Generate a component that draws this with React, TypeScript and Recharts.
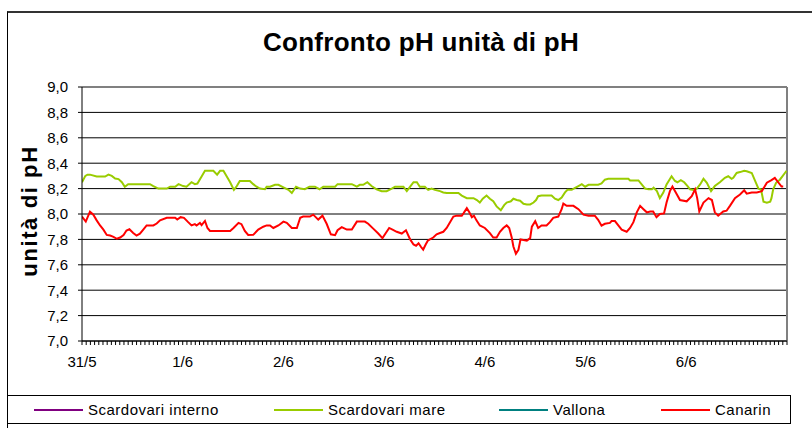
import React from 'react';
import { LineChart, Line, XAxis, YAxis, CartesianGrid, ReferenceLine, Legend } from 'recharts';

const FONT = '"Liberation Sans", Arial, Helvetica, sans-serif';

// Category labels (one per day, placed at the start of each day, in hours)
const dayLabels = ['31/5', '1/6', '2/6', '3/6', '4/6', '5/6', '6/6'];
const hourTicks = Array.from({ length: 169 }, (_, i) => i);
const yTicks = [7.0, 7.2, 7.4, 7.6, 7.8, 8.0, 8.2, 8.4, 8.6, 8.8, 9.0];

const seriesNames = ['Scardovari interno', 'Scardovari mare', 'Vallona', 'Canarin'];
const seriesColors = ['#800080', '#99cc00', '#008080', '#ff0000'];

// [hour since 31/5 00:00, pH]
const scardovariInterno: [number, number][] = [];
const vallona: [number, number][] = [];

const scardovariMare: [number, number][] = [
  [0, 8.25], [0.8, 8.30], [1.3, 8.31], [1.9, 8.31], [3.5, 8.295], [5.5, 8.295], [6.3, 8.31], [7.1, 8.30],
  [7.9, 8.28], [8.7, 8.275], [9.5, 8.25], [10.2, 8.215], [11.0, 8.235], [16.2, 8.235], [17.0, 8.22],
  [18.2, 8.20], [20.2, 8.20], [21.0, 8.215], [22.2, 8.215], [23.0, 8.235], [24.1, 8.22], [24.9, 8.215],
  [26.1, 8.25], [26.9, 8.235], [27.5, 8.24], [28.5, 8.295], [29.3, 8.34], [31.3, 8.34], [32.2, 8.31],
  [32.9, 8.34], [33.7, 8.34], [34.5, 8.295], [35.3, 8.25], [36.2, 8.19], [36.9, 8.22], [37.6, 8.26],
  [40.0, 8.26], [40.8, 8.235], [41.6, 8.215], [42.4, 8.20], [43.6, 8.195], [44.0, 8.215], [44.8, 8.215],
  [46.0, 8.23], [46.8, 8.23], [48.0, 8.21], [49.2, 8.19], [50.0, 8.165], [51.0, 8.215], [52.0, 8.20],
  [53.1, 8.195], [54.2, 8.215], [55.5, 8.215], [56.6, 8.195], [57.5, 8.215], [60.3, 8.215], [60.9, 8.235],
  [64.3, 8.235], [65.5, 8.215], [66.2, 8.23], [67.0, 8.23], [68.0, 8.25], [69.0, 8.22], [70.2, 8.195],
  [71.4, 8.18], [72.6, 8.18], [73.8, 8.20], [74.6, 8.215], [76.6, 8.215], [77.4, 8.18], [78.2, 8.215],
  [79.0, 8.25], [79.8, 8.25], [80.5, 8.215], [81.7, 8.215], [82.5, 8.19], [83.3, 8.20], [84.1, 8.19],
  [85.3, 8.18], [86.1, 8.17], [86.9, 8.165], [89.7, 8.165], [90.5, 8.145], [91.7, 8.125], [93.3, 8.125],
  [94.1, 8.11], [94.8, 8.09], [95.5, 8.12], [96.4, 8.145], [97.2, 8.12], [98.0, 8.10], [98.8, 8.06],
  [99.8, 8.03], [100.6, 8.07], [101.2, 8.09], [102.2, 8.10], [102.8, 8.12], [103.6, 8.11], [104.4, 8.105],
  [105.2, 8.08], [106.0, 8.075], [106.8, 8.075], [107.6, 8.09], [108.2, 8.11], [108.7, 8.14], [109.5, 8.145],
  [111.9, 8.145], [112.7, 8.12], [113.5, 8.11], [114.3, 8.13], [115.1, 8.17], [115.7, 8.19], [116.7, 8.19],
  [117.5, 8.205], [118.3, 8.22], [119.1, 8.235], [119.9, 8.215], [120.7, 8.23], [123.0, 8.23], [123.8, 8.24],
  [124.6, 8.27], [125.4, 8.277], [130.2, 8.277], [130.6, 8.264], [132.6, 8.264], [134.2, 8.2], [135.0, 8.194],
  [135.8, 8.194], [136.2, 8.208], [137.0, 8.18], [137.7, 8.125], [138.5, 8.167], [139.3, 8.233], [140.5, 8.297],
  [141.3, 8.26], [141.9, 8.25], [142.7, 8.267], [143.5, 8.25], [144.3, 8.22], [144.9, 8.194], [145.7, 8.19],
  [146.5, 8.2], [147.3, 8.233], [148.1, 8.277], [148.9, 8.246], [149.9, 8.18], [150.8, 8.22], [152.0, 8.25],
  [153.2, 8.285], [154.0, 8.297], [154.8, 8.277], [155.2, 8.285], [156.0, 8.323], [156.8, 8.33], [157.8, 8.34],
  [158.4, 8.336], [159.6, 8.323], [160.4, 8.26], [161.2, 8.2], [161.8, 8.194], [162.4, 8.097], [163.2, 8.089],
  [164.0, 8.097], [164.3, 8.125], [164.7, 8.194], [165.4, 8.246], [166.3, 8.27], [167.5, 8.323], [167.9, 8.34],
];

const canarin: [number, number][] = [
  [0, 7.98], [0.9, 7.94], [1.9, 8.018], [2.7, 7.995], [3.5, 7.95], [4.3, 7.91], [5.1, 7.877], [5.9, 7.835],
  [6.7, 7.83], [7.5, 7.82], [8.3, 7.805], [9.1, 7.815], [9.9, 7.835], [10.6, 7.87], [11.3, 7.88], [12.2, 7.85],
  [13.0, 7.83], [13.8, 7.845], [14.6, 7.877], [15.4, 7.91], [17.0, 7.91], [17.8, 7.925], [18.6, 7.95],
  [20.2, 7.97], [22.2, 7.97], [22.7, 7.956], [23.5, 7.975], [24.3, 7.97], [25.3, 7.936], [26.1, 7.91],
  [26.9, 7.92], [27.3, 7.91], [28.1, 7.93], [28.5, 7.913], [29.3, 7.945], [29.9, 7.89], [30.5, 7.867],
  [35.3, 7.867], [36.1, 7.89], [37.3, 7.93], [38.0, 7.92], [38.8, 7.867], [39.6, 7.835], [40.8, 7.836],
  [42.0, 7.877], [43.2, 7.9], [44.0, 7.91], [44.8, 7.91], [45.6, 7.89], [46.8, 7.91], [48.0, 7.94],
  [48.8, 7.93], [50.0, 7.89], [51.2, 7.89], [52.0, 7.97], [52.7, 7.98], [54.3, 7.98], [55.1, 7.995],
  [56.3, 7.956], [57.3, 7.987], [58.3, 7.923], [59.3, 7.84], [60.3, 7.833], [60.9, 7.872], [61.9, 7.897],
  [63.1, 7.877], [64.3, 7.877], [65.5, 7.94], [67.4, 7.94], [68.2, 7.923], [69.4, 7.885], [70.6, 7.846],
  [71.6, 7.81], [72.4, 7.85], [73.2, 7.89], [74.0, 7.877], [75.0, 7.86], [76.2, 7.846], [77.2, 7.872],
  [78.2, 7.80], [79.0, 7.76], [79.6, 7.75], [80.2, 7.77], [80.8, 7.74], [81.3, 7.72], [81.9, 7.76],
  [82.4, 7.79], [82.9, 7.80], [83.7, 7.815], [84.5, 7.84], [85.3, 7.85], [86.1, 7.86], [86.9, 7.89],
  [87.7, 7.936], [88.5, 7.98], [89.3, 7.987], [90.5, 7.987], [90.9, 8.005], [91.7, 8.046], [92.3, 8.013],
  [92.9, 7.975], [93.4, 7.987], [94.0, 7.95], [94.8, 7.91], [96.0, 7.89], [97.2, 7.85], [98.0, 7.815],
  [98.8, 7.815], [99.6, 7.86], [100.4, 7.89], [101.2, 7.91], [101.8, 7.89], [102.4, 7.815], [102.8, 7.744],
  [103.4, 7.687], [104.0, 7.718], [104.5, 7.80], [105.2, 7.795], [106.0, 7.79], [106.8, 7.81], [107.2, 7.90],
  [108.0, 7.944], [108.7, 7.89], [109.5, 7.91], [110.7, 7.91], [111.5, 7.936], [112.3, 7.97], [113.5, 7.98],
  [114.3, 8.038], [114.7, 8.082], [115.5, 8.064], [117.1, 8.064], [118.3, 8.038], [119.5, 7.995],
  [120.7, 7.987], [122.2, 7.987], [123.0, 7.954], [123.8, 7.908], [124.6, 7.923], [125.8, 7.93],
  [126.2, 7.944], [127.0, 7.944], [127.8, 7.91], [128.6, 7.877], [129.8, 7.86], [130.6, 7.89], [131.4, 7.936],
  [132.2, 8.013], [133.0, 8.064], [133.8, 8.038], [134.6, 8.013], [135.4, 8.02], [136.1, 8.02], [136.9, 7.975],
  [137.7, 8.0], [138.7, 8.005], [139.3, 8.09], [140.1, 8.18], [140.7, 8.216], [141.5, 8.17], [142.5, 8.11],
  [144.1, 8.10], [145.3, 8.14], [146.1, 8.194], [146.6, 8.125], [147.1, 8.02], [148.1, 8.09], [149.3, 8.125],
  [150.1, 8.11], [150.8, 8.013], [151.6, 7.987], [152.8, 8.02], [153.6, 8.026], [154.4, 8.064], [155.6, 8.125],
  [156.8, 8.153], [157.8, 8.186], [158.4, 8.16], [159.6, 8.17], [160.8, 8.17], [162.0, 8.18], [163.2, 8.246],
  [164.3, 8.267], [165.1, 8.285], [165.9, 8.25], [166.7, 8.216], [167.1, 8.216],
];

const seriesSamples = [scardovariInterno, scardovariMare, vallona, canarin];

const legendOffsets = [26, 266, 491, 653];

function LegendBox() {
  return (
    <div
      style={{
        position: 'relative',
        width: 784,
        height: 29,
        border: '1px solid #000',
        boxSizing: 'border-box',
        fontFamily: FONT,
        fontSize: 15,
        letterSpacing: 0.5,
        color: '#000',
      }}
    >
      {seriesNames.map((name, i) => (
        <div
          key={name}
          style={{ position: 'absolute', left: legendOffsets[i], top: 0, height: 27, display: 'flex', alignItems: 'center' }}
        >
          <div style={{ width: 49, height: 2, background: seriesColors[i] }} />
          <span style={{ marginLeft: 5, lineHeight: '27px' }}>{name}</span>
        </div>
      ))}
    </div>
  );
}

export default function App() {
  const fmtY = (v: number) => v.toFixed(1).replace('.', ',');
  const fmtX = (h: number) => (h % 24 === 0 && h / 24 < dayLabels.length ? dayLabels[h / 24] : '');
  const datasets = seriesSamples.map((s) => s.map(([h, v]) => ({ h, v })));

  return (
    <div style={{ position: 'absolute', left: 0, top: 0, width: 812, height: 428, overflow: 'hidden', background: '#fff' }}>
      <div
        style={{
          position: 'absolute',
          left: 7,
          top: 11,
          width: 900,
          height: 600,
          border: '1px solid #000',
          borderTop: '2px solid #333',
        }}
      />
      <div style={{ position: 'absolute', left: 0, top: 0 }}>
        <LineChart width={812} height={428} margin={{ top: 87, right: 25, bottom: 57, left: 22 }}>
          <CartesianGrid horizontal vertical={false} stroke="#000" strokeWidth={1} />
          <ReferenceLine y={9} stroke="#808080" strokeWidth={1.5} />
          <ReferenceLine x={168} stroke="#808080" strokeWidth={2} />
          <XAxis
            dataKey="h"
            type="number"
            domain={[0, 168]}
            ticks={hourTicks}
            interval={0}
            tickFormatter={fmtX}
            tickSize={4}
            tickMargin={11}
            stroke="#000"
            tick={{ fill: '#000', fontSize: 15, fontFamily: FONT }}
            height={30}
            allowDataOverflow
          />
          <YAxis
            type="number"
            domain={[7, 9]}
            ticks={yTicks}
            interval={0}
            tickFormatter={fmtY}
            tickSize={4}
            tickMargin={10}
            width={60}
            stroke="#000"
            tick={{ fill: '#000', fontSize: 15, fontFamily: FONT }}
            allowDataOverflow
          />
          {seriesNames.map((name, i) => (
            <Line
              key={name}
              name={name}
              data={datasets[i]}
              dataKey="v"
              type="linear"
              stroke={seriesColors[i]}
              strokeWidth={2}
              dot={false}
              isAnimationActive={false}
            />
          ))}
          <Legend
            layout="horizontal"
            verticalAlign="middle"
            align="center"
            wrapperStyle={{ left: 7, top: 395, width: 784, height: 29 }}
            content={() => <LegendBox />}
          />
        </LineChart>
      </div>
      <svg width={812} height={428} style={{ position: 'absolute', left: 0, top: 0, pointerEvents: 'none' }}>
        <text x={421} y={51} textAnchor="middle" fontFamily={FONT} fontWeight="bold" fontSize={26} letterSpacing={0.3} fill="#000">
          Confronto pH unità di pH
        </text>
        <text
          x={37}
          y={211}
          transform="rotate(-90 37 211)"
          textAnchor="middle"
          fontFamily={FONT}
          fontWeight="bold"
          fontSize={22}
          letterSpacing={1.6}
          fill="#000"
        >
          unità di pH
        </text>
      </svg>
    </div>
  );
}
